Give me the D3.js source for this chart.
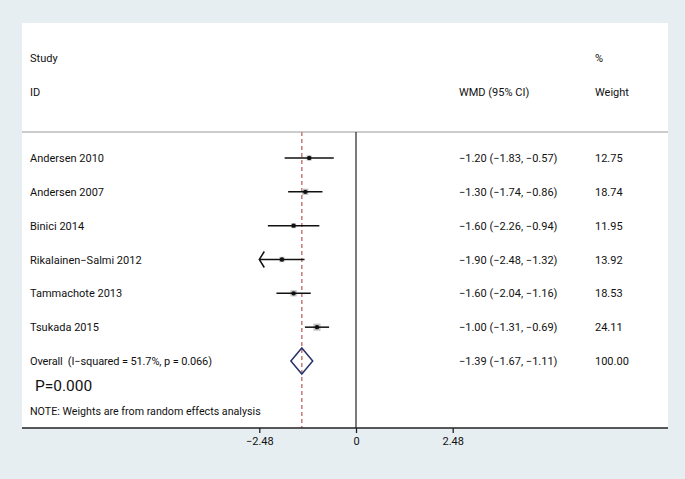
<!DOCTYPE html>
<html><head><meta charset="utf-8">
<script src="https://cdn.jsdelivr.net/npm/d3@7"></script>
<style>body{margin:0;background:#e7eef1;}svg{display:block;}text{font-family:Roboto,"Open Sans",sans-serif;fill:#111;white-space:pre;}</style>
</head><body><svg id="c" width="685" height="479"></svg>
<script>
const studies = ["Andersen 2010","Andersen 2007","Binici 2014","Rikalainen\u2212Salmi 2012","Tammachote 2013","Tsukada 2015"];
const wmd = [-1.20,-1.30,-1.60,-1.90,-1.60,-1.00];
const lower = [-1.83,-1.74,-2.26,-2.48,-2.04,-1.31];
const upper = [-0.57,-0.86,-0.94,-1.32,-1.16,-0.69];
const weights = [12.75,18.74,11.95,13.92,18.53,24.11];
const overallLabel = "Overall\u00a0 (I\u2212squared = 51.7%, p = 0.066)";
const overallEst = -1.39, overallLo = -1.67, overallHi = -1.11, overallWeight = 100.00;
const tickValues = [-2.48, 0, 2.48];
const tickLabels = ["\u22122.48","0","2.48"];

const fmt = v => (v<0?"\u2212":"") + Math.abs(v).toFixed(2);
const svg = d3.select("#c");
const x = d3.scaleLinear().domain([-2.48,2.48]).range([259.3,452.7]);
const rowIdx = d3.range(studies.length+1);
const y = d3.scalePoint().domain(rowIdx).range([158,361]);
const plotTop = 132, plotBottom = 428;
const fs = 11;

svg.append("rect").attr("x",22).attr("y",23).attr("width",646).attr("height",plotBottom-23).attr("fill","#fff");

// headers
const hdr = svg.append("g").attr("font-size",fs);
hdr.append("text").attr("x",30).attr("y",62).text("Study");
hdr.append("text").attr("x",30).attr("y",96).text("ID");
hdr.append("text").attr("x",459).attr("y",96).text("WMD (95% CI)");
hdr.append("text").attr("x",595).attr("y",62).text("%");
hdr.append("text").attr("x",595).attr("y",96).text("Weight");

svg.append("line").attr("x1",22).attr("x2",668).attr("y1",plotTop).attr("y2",plotTop).attr("stroke","#bbb").attr("stroke-width",1.3);

// zero line
svg.append("line").attr("x1",x(0)).attr("x2",x(0)).attr("y1",plotTop).attr("y2",plotBottom).attr("stroke","#333").attr("stroke-width",1.3);
// overall dashed line
svg.append("line").attr("x1",x(overallEst)).attr("x2",x(overallEst)).attr("y1",plotTop).attr("y2",plotBottom)
  .attr("stroke","#c9817f").attr("stroke-width",1.6).attr("stroke-dasharray","4,3");

const xmin = x.domain()[0];
studies.forEach((s,i)=>{
  const yy = y(i);
  const side = 1.45*Math.sqrt(weights[i]);
  svg.append("rect").attr("x",x(wmd[i])-side/2).attr("y",yy-side/2).attr("width",side).attr("height",side).attr("fill","#c4c4c4");
  svg.append("line").attr("x1",x(Math.max(lower[i],xmin))).attr("x2",x(upper[i])).attr("y1",yy).attr("y2",yy).attr("stroke","#111").attr("stroke-width",1.5);
  if(lower[i]<=xmin){
    const ax = x(xmin);
    svg.append("path").attr("d",`M${ax+5},${yy-8}L${ax},${yy}L${ax+5},${yy+8}`).attr("fill","none").attr("stroke","#111").attr("stroke-width",1.5);
  }
  svg.append("circle").attr("cx",x(wmd[i])).attr("cy",yy).attr("r",2.2).attr("fill","#111");
  svg.append("text").attr("x",30).attr("y",yy+4).attr("font-size",fs).text(s);
  svg.append("text").attr("x",459).attr("y",yy+4).attr("font-size",fs).text(`${fmt(wmd[i])} (${fmt(lower[i])}, ${fmt(upper[i])})`);
  svg.append("text").attr("x",595).attr("y",yy+4).attr("font-size",fs).text(weights[i].toFixed(2));
});

const oy = y(studies.length);
svg.append("path").attr("d",`M${x(overallLo)},${oy}L${x(overallEst)},${oy-13}L${x(overallHi)},${oy}L${x(overallEst)},${oy+13}Z`)
  .attr("fill","none").attr("stroke","#27336b").attr("stroke-width",1.5);
svg.append("text").attr("x",30).attr("y",oy+4).attr("font-size",fs).attr("textLength",182).text(overallLabel);
svg.append("text").attr("x",459).attr("y",oy+4).attr("font-size",fs).text(`${fmt(overallEst)} (${fmt(overallLo)}, ${fmt(overallHi)})`);
svg.append("text").attr("x",595).attr("y",oy+4).attr("font-size",fs).text(overallWeight.toFixed(2));

svg.append("text").attr("x",35).attr("y",391).attr("font-size",15.5).text("P=0.000");
svg.append("text").attr("x",30).attr("y",415).attr("font-size",10.7).text("NOTE: Weights are from random effects analysis");

// axis
svg.append("line").attr("x1",22).attr("x2",668).attr("y1",plotBottom).attr("y2",plotBottom).attr("stroke","#222").attr("stroke-width",1.3);
const axis = d3.axisBottom(x).tickValues(tickValues).tickSize(5).tickFormat((d,i)=>tickLabels[i]);
const g = svg.append("g").attr("transform",`translate(0,${plotBottom})`).call(axis);
g.select(".domain").remove();
g.selectAll(".tick line").attr("stroke","#222").attr("stroke-width",1.3);
g.selectAll(".tick text").attr("font-size",fs).attr("font-family","Roboto,'Open Sans',sans-serif").attr("fill","#111").attr("dy","0.85em");
</script></body></html>
